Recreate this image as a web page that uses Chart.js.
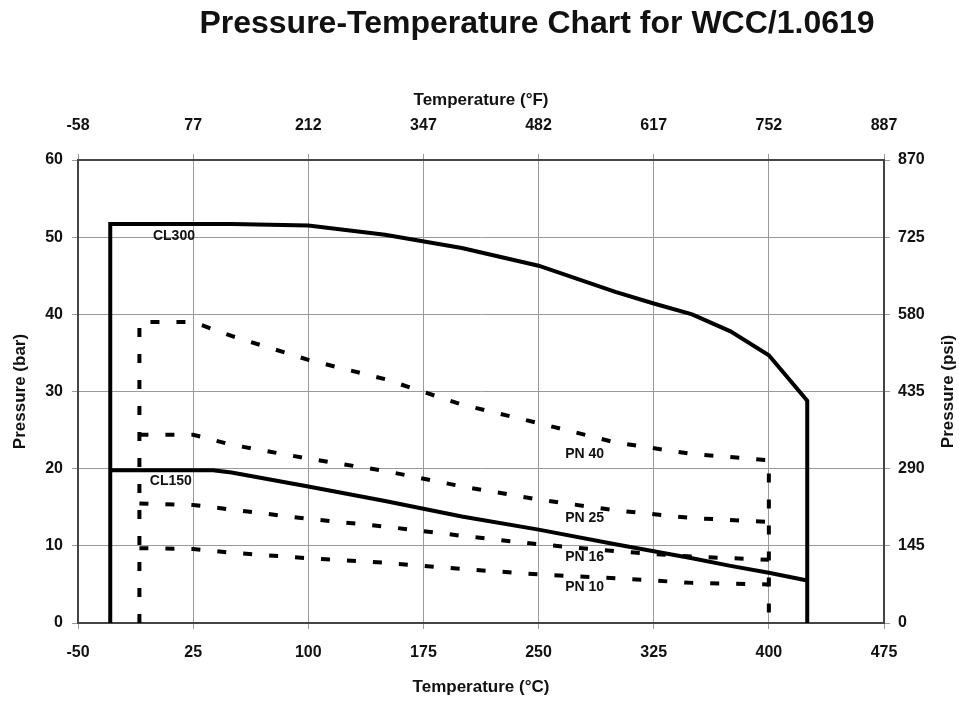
<!DOCTYPE html>
<html lang="en">
<head>
    <meta charset="UTF-8">
    <title>Pressure-Temperature Chart for WCC/1.0619</title>
    <script src="https://cdn.jsdelivr.net/npm/chart.js"></script>
    <style>
        body { margin: 0; background: #fff; }
    </style>
</head>
<body>
    <canvas id="myChart" width="959" height="704"></canvas>

    <script>
        // ASME classes (solid lines), temperature in degC, pressure in bar
        var cl300Temp = [-29, -29, 38, 50, 100, 150, 200, 250, 300, 325, 350, 375, 400, 425, 425];
        var cl300Bar  = [0, 51.7, 51.7, 51.7, 51.5, 50.3, 48.6, 46.3, 42.9, 41.4, 40.0, 37.8, 34.7, 28.8, 0];
        var cl150Temp = [-29, 38, 50, 100, 150, 200, 250, 300, 325, 350, 375, 400, 425];
        var cl150Bar  = [19.8, 19.8, 19.5, 17.7, 15.8, 13.8, 12.1, 10.2, 9.3, 8.4, 7.4, 6.5, 5.5];

        // PN ratings (dashed lines)
        var pnTemp = [-10, 25, 50, 100, 150, 200, 250, 300, 350, 400];
        var pn40Bar = [39.0, 39.0, 37.2, 34.1, 31.6, 28.3, 25.9, 23.4, 21.9, 21.1];
        var pn25Bar = [24.4, 24.4, 23.1, 21.3, 19.7, 17.7, 16.0, 14.6, 13.6, 13.1];
        var pn16Bar = [15.5, 15.3, 14.7, 13.5, 12.5, 11.3, 10.2, 9.3, 8.6, 8.2];
        var pn10Bar = [9.7, 9.6, 9.1, 8.4, 7.8, 7.0, 6.3, 5.8, 5.2, 5.0];

        // line labels (text + anchor in data units)
        var labelText = ['CL300', 'CL150', 'PN 40', 'PN 25', 'PN 16', 'PN 10'];
        var labelTemp = [12.5, 10.5, 280, 280, 280, 280];
        var labelBar  = [50.1, 18.4, 21.9, 13.6, 8.55, 4.6];

        var fontFamily = '"Liberation Sans", Arial, sans-serif';

        function pts(xs, ys) {
            return xs.map(function (x, i) { return { x: x, y: ys[i] }; });
        }

        // PN40 carries the vertical dashed limits at both ends
        var pn40Temp = [pnTemp[0]].concat(pnTemp, [pnTemp[pnTemp.length - 1]]);
        var pn40Full = [0].concat(pn40Bar, [0]);

        function lineSet(label, data, dashed) {
            return {
                label: label,
                data: data,
                showLine: true,
                borderColor: '#000',
                borderWidth: 4,
                borderDash: dashed ? [9, 17] : [],
                borderJoinStyle: 'miter',
                pointRadius: 0,
                tension: 0,
                xAxisID: 'x',
                yAxisID: 'y'
            };
        }

        var extraText = {
            id: 'extraText',
            afterDatasetsDraw: function (chart) {
                var ctx = chart.ctx;
                var xs = chart.scales.x, ys = chart.scales.y;
                ctx.save();
                ctx.fillStyle = '#111';
                ctx.textAlign = 'center';
                ctx.textBaseline = 'middle';
                ctx.font = 'bold 14px ' + fontFamily;
                labelText.forEach(function (t, i) {
                    ctx.fillText(t, xs.getPixelForValue(labelTemp[i]), ys.getPixelForValue(labelBar[i]));
                });
                // main title
                ctx.font = 'bold 32px ' + fontFamily;
                ctx.fillText('Pressure-Temperature Chart for WCC/1.0619', 537, 24);
                // right axis title, reading bottom to top
                ctx.font = 'bold 17px ' + fontFamily;
                ctx.translate(948, (chart.chartArea.top + chart.chartArea.bottom) / 2);
                ctx.rotate(-Math.PI / 2);
                ctx.fillText('Pressure (psi)', 0, 0);
                ctx.restore();
            }
        };

        var tickFont = { family: fontFamily, size: 16, weight: 'bold' };
        var titleFont = { family: fontFamily, size: 17, weight: 'bold' };
        var gridColor = '#9a9a9a';
        var borderStyle = { color: '#444', width: 2 };

        var ctx = document.getElementById('myChart').getContext('2d');
        var myChart = new Chart(ctx, {
            type: 'scatter',
            data: {
                datasets: [
                    lineSet('CL300', pts(cl300Temp, cl300Bar), false),
                    lineSet('CL150', pts(cl150Temp, cl150Bar), false),
                    lineSet('PN 40', pts(pn40Temp, pn40Full), true),
                    lineSet('PN 25', pts(pnTemp, pn25Bar), true),
                    lineSet('PN 16', pts(pnTemp, pn16Bar), true),
                    lineSet('PN 10', pts(pnTemp, pn10Bar), true)
                ]
            },
            options: {
                responsive: false,
                animation: false,
                layout: { padding: 0 },
                plugins: {
                    legend: { display: false },
                    tooltip: { enabled: false }
                },
                scales: {
                    x: {
                        type: 'linear', position: 'bottom', min: -50, max: 475,
                        ticks: { stepSize: 75, autoSkip: false, maxRotation: 0, padding: 14, color: '#111', font: tickFont },
                        grid: { color: gridColor, lineWidth: 1, tickLength: 6 },
                        border: borderStyle,
                        title: { display: true, text: 'Temperature (°C)', color: '#111', font: titleFont, padding: { top: 0, bottom: 6 } },
                        afterFit: function (s) { s.height = 81; }
                    },
                    x2: {
                        type: 'linear', position: 'top', min: -58, max: 887, display: true,
                        ticks: { stepSize: 135, autoSkip: false, maxRotation: 0, padding: 19, color: '#111', font: tickFont },
                        grid: { drawOnChartArea: false, color: gridColor, tickLength: 6 },
                        border: borderStyle,
                        title: { display: true, text: 'Temperature (°F)', color: '#111', font: titleFont, padding: { top: 90, bottom: 0 } },
                        afterFit: function (s) { s.height = 160; }
                    },
                    y: {
                        type: 'linear', position: 'left', min: 0, max: 60,
                        ticks: { stepSize: 10, padding: 9, color: '#111', font: tickFont },
                        grid: { color: gridColor, lineWidth: 1, tickLength: 6 },
                        border: borderStyle,
                        title: { display: true, text: 'Pressure (bar)', color: '#111', font: titleFont, padding: { top: 10, bottom: 0 } },
                        afterFit: function (s) { s.width = 78; }
                    },
                    y2: {
                        type: 'linear', position: 'right', min: 0, max: 870, display: true,
                        ticks: { stepSize: 145, padding: 8, color: '#111', font: tickFont },
                        grid: { drawOnChartArea: false, color: gridColor, tickLength: 6 },
                        border: borderStyle,
                        afterFit: function (s) { s.width = 75; }
                    }
                }
            },
            plugins: [extraText]
        });
    </script>
</body>
</html>
